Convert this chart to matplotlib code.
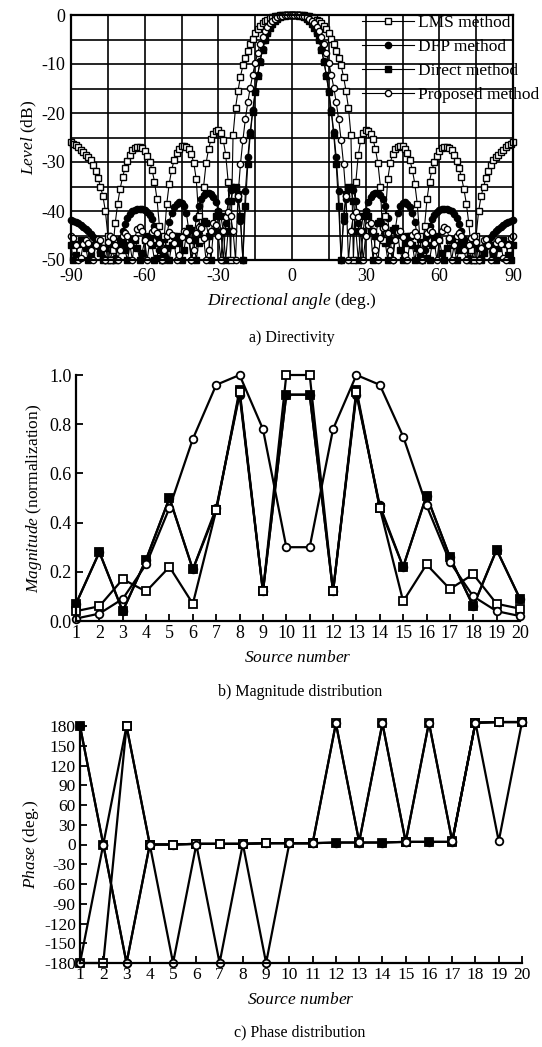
import numpy as np
import matplotlib
matplotlib.use("Agg")
import matplotlib.pyplot as plt

plt.rcParams['font.family'] = ['Liberation Serif', 'DejaVu Serif']
plt.rcParams['mathtext.fontset'] = 'custom'
plt.rcParams['mathtext.rm'] = 'Liberation Serif'
plt.rcParams['mathtext.it'] = 'Liberation Serif:italic'
plt.rcParams['axes.unicode_minus'] = False

# ---- a) directivity, levels in dB for 0..90 deg (pattern is symmetric)
lms_half = [0, 0, 0, 0, -0.1, -0.1, -0.2, -0.3, -0.5, -0.7,
            -1.0, -1.3, -1.7, -2.2, -2.9, -3.7, -4.8, -6.0, -7.3, -8.7,
            -10.3, -12.6, -15.5, -19.0, -24.5, -50, -34, -28.5, -25.5, -24.0,
            -23.5, -23.6, -24.2, -25.4, -27.4, -30.3, -35.0, -46.0, -41.0, -33.5,
            -30.2, -28.4, -27.4, -26.9, -26.7, -26.8, -27.3, -28.2, -29.6, -31.6,
            -34.4, -38.5, -45.0, -50, -43.0, -37.5, -34.0, -31.6, -29.9, -28.7,
            -27.8, -27.2, -26.9, -26.9, -27.1, -27.6, -28.5, -29.7, -31.2, -33.1,
            -35.5, -38.5, -42.5, -48.0, -50, -45.0, -40.0, -37.0, -35.0, -33.3,
            -31.8, -30.6, -29.6, -29.0, -28.5, -28.0, -27.5, -27.0, -26.6, -26.3,
            -26.0]
dfp_half = [0, 0, 0, -0.1, -0.2, -0.4, -0.7, -1.1, -1.7, -2.5,
            -3.6, -5.1, -7.0, -9.4, -12.3, -15.6, -19.4, -23.8, -29.0, -36.0,
            -50, -42.0, -37.5, -35.5, -35.0, -35.8, -38.0, -42.5, -50, -44.0,
            -40.0, -38.2, -37.2, -36.6, -36.3, -36.3, -36.7, -37.5, -39.0, -41.5,
            -46.0, -50, -44.0, -40.5, -38.9, -38.3, -38.2, -38.5, -39.2, -40.4,
            -42.2, -45.0, -49.0, -50, -48.0, -45.0, -43.0, -41.7, -40.8, -40.2,
            -39.8, -39.6, -39.5, -39.5, -39.7, -40.1, -40.7, -41.5, -42.6, -44.0,
            -45.7, -47.5, -49.5, -50, -50, -50, -50, -49.5, -48.3, -47.2,
            -46.2, -45.4, -44.7, -44.1, -43.6, -43.2, -42.8, -42.5, -42.2, -42.0,
            -41.8]
direct_half = [0, 0, -0.1, -0.2, -0.3, -0.5, -0.8, -1.2, -1.8, -2.6,
               -3.7, -5.2, -7.1, -9.5, -12.4, -15.8, -19.8, -24.5, -30.5, -39.0,
               -50, -41.0, -36.5, -35.0, -35.5, -38.0, -44.0, -50, -44.0, -41.0,
               -40.2, -41.0, -44.0, -50, -45.0, -42.5, -42.0, -43.0, -46.5, -50,
               -46.0, -43.8, -43.5, -44.8, -48.0, -50, -46.5, -45.0, -45.2, -47.0,
               -50, -47.5, -45.8, -45.5, -46.5, -49.5, -50, -47.0, -45.5, -45.2,
               -46.0, -48.5, -50, -47.5, -46.0, -45.8, -47.0, -50, -48.0, -46.5,
               -46.2, -47.2, -50, -48.0, -46.8, -46.5, -47.5, -50, -48.5, -47.0,
               -46.5, -47.0, -49.0, -50, -47.5, -46.3, -46.0, -46.8, -49.0, -50,
               -47.0]
proposed_half = [0, 0, 0, -0.1, -0.2, -0.3, -0.5, -0.8, -1.2, -1.7,
                 -2.4, -3.3, -4.5, -6.0, -7.8, -9.8, -12.2, -14.8, -17.8, -21.3,
                 -25.5, -30.5, -37.0, -50, -44.0, -41.0, -40.3, -41.2, -44.0, -50,
                 -45.0, -42.8, -42.5, -44.0, -48.0, -50, -45.5, -43.5, -43.2, -44.5,
                 -48.0, -50, -46.0, -44.3, -44.0, -45.3, -49.0, -50, -46.5, -44.8,
                 -44.3, -45.2, -48.0, -50, -46.5, -44.5, -43.8, -44.3, -46.5, -50,
                 -46.0, -44.0, -43.3, -43.6, -45.5, -50, -47.0, -45.0, -44.5, -45.2,
                 -48.0, -50, -47.0, -45.5, -45.2, -46.3, -50, -47.5, -46.0, -45.8,
                 -47.0, -50, -48.0, -46.5, -46.0, -46.8, -49.5, -50, -47.0, -45.5,
                 -45.0]

# ---- b) magnitude distribution
source = list(range(1, 21))
lms_mag = [0.04, 0.06, 0.17, 0.12, 0.22, 0.07, 0.45, 0.93, 0.12, 1.0,
           1.0, 0.12, 0.93, 0.46, 0.08, 0.23, 0.13, 0.19, 0.07, 0.05]
dfp_mag = [0.07, 0.28, 0.04, 0.25, 0.50, 0.21, 0.46, 0.92, 0.12, 0.92,
           0.92, 0.12, 0.92, 0.47, 0.22, 0.51, 0.26, 0.06, 0.29, 0.09]
direct_mag = [0.07, 0.28, 0.04, 0.25, 0.50, 0.21, 0.45, 0.94, 0.12, 0.92,
              0.92, 0.12, 0.94, 0.46, 0.22, 0.51, 0.26, 0.06, 0.29, 0.09]
proposed_mag = [0.01, 0.03, 0.09, 0.23, 0.46, 0.74, 0.96, 1.0, 0.78, 0.30,
                0.30, 0.78, 1.0, 0.96, 0.75, 0.47, 0.24, 0.10, 0.04, 0.02]

# ---- c) phase distribution
lms_ph = [-180, -180, 180, 0, 0, 1, 1, 1, 2, 2,
          2, 184, 4, 184, 4, 185, 5, 185, 186, 186]
dfp_ph = [180, 0, -180, 0, 0, 1, 1, 1, 2, 2,
          2, 3, 3, 3, 4, 4, 4, 185, 186, 186]
direct_ph = [180, 0, 180, 0, 0, 1, 1, 1, 2, 2,
             2, 3, 3, 3, 4, 4, 4, 185, 186, 186]
proposed_ph = [-180, 0, -180, 0, -180, 0, -180, 1, -180, 2,
               2, 184, 4, 184, 4, 185, 5, 185, 5, 186]

W, H = 542, 1047
fig = plt.figure(figsize=(W / 100, H / 100), dpi=100)


def box(l, t, r, b):
    return [l / W, 1 - b / H, (r - l) / W, (b - t) / H]


styles = {
    'LMS': dict(marker='s', mfc='white', mec='black'),
    'DFP': dict(marker='o', mfc='black', mec='black'),
    'Direct': dict(marker='s', mfc='black', mec='black'),
    'Proposed': dict(marker='o', mfc='white', mec='black'),
}

# ---------- a)
ax1 = fig.add_axes(box(71, 15, 513, 260))
angle = np.arange(-90, 91)
series_a = [('DFP', dfp_half, 'DFP method'), ('Direct', direct_half, 'Direct method'),
            ('LMS', lms_half, 'LMS method'), ('Proposed', proposed_half, 'Proposed method')]
handles = {}
for key, half, lab in series_a:
    full = half[:0:-1] + half
    h, = ax1.plot(angle, full, color='black', lw=0.8, ms=4.5, mew=1.0,
                  clip_on=False, label=lab, **styles[key])
    handles[key] = h
ax1.set_xlim(-90, 90)
ax1.set_ylim(-50, 0)
ax1.set_xticks(np.arange(-90, 91, 15), minor=True)
ax1.set_yticks(np.arange(-50, 1, 5), minor=True)
ax1.set_xticks(np.arange(-90, 91, 30))
ax1.set_yticks(np.arange(-50, 1, 10))
ax1.grid(True, which='both', color='black', lw=1.2)
ax1.tick_params(which='both', length=0, labelsize=13)
ax1.tick_params(axis='x', pad=6)
ax1.tick_params(axis='y', pad=4)
for s in ax1.spines.values():
    s.set_linewidth(1.6)
ax1.set_xlabel(r'$\mathit{Directional\ angle}$ (deg.)', fontsize=12.5, labelpad=4)
ax1.set_ylabel(r'$\mathit{Level}$ (dB)', fontsize=12.5, labelpad=2)
leg = ax1.legend([handles['LMS'], handles['DFP'], handles['Direct'], handles['Proposed']],
                 ['LMS method', 'DFP method', 'Direct method', 'Proposed method'],
                 loc='upper left', bbox_to_anchor=(362 / W, 1 - 15 / H),
                 bbox_transform=fig.transFigure, frameon=False, fontsize=12.5,
                 handlelength=3.0, handletextpad=0.2, labelspacing=0.45,
                 borderaxespad=0, borderpad=0)
fig.text(292 / W, 1 - 338 / H, 'a) Directivity', ha='center', va='center', fontsize=11.5)

# ---------- b)
ax2 = fig.add_axes(box(76, 375, 520, 621))
for key, vals in [('DFP', dfp_mag), ('Direct', direct_mag), ('LMS', lms_mag),
                  ('Proposed', proposed_mag)]:
    ax2.plot(source, vals, color='black', lw=1.6, ms=5.5, mew=1.3,
             clip_on=False, **styles[key])
ax2.set_xlim(1, 20)
ax2.set_ylim(0, 1.0)
ax2.set_xticks(source)
ax2.set_yticks([0.0, 0.2, 0.4, 0.6, 0.8, 1.0])
ax2.set_yticklabels(['0.0', '0.2', '0.4', '0.6', '0.8', '1.0'])
ax2.spines['top'].set_visible(False)
ax2.spines['right'].set_visible(False)
for s in ('left', 'bottom'):
    ax2.spines[s].set_linewidth(1.6)
ax2.tick_params(direction='in', length=5, width=1.3, labelsize=13, pad=3)
ax2.set_xlabel(r'$\mathit{Source\ number}$', fontsize=12.5, labelpad=6)
ax2.set_ylabel(r'$\mathit{Magnitude}$ (normalization)', fontsize=12.5, labelpad=4)
fig.text(300 / W, 1 - 692 / H, 'b) Magnitude distribution', ha='center', va='center',
         fontsize=11.5)

# ---------- c)
ax3 = fig.add_axes(box(80, 726, 522, 963))
for key, vals in [('DFP', dfp_ph), ('Direct', direct_ph), ('LMS', lms_ph),
                  ('Proposed', proposed_ph)]:
    ax3.plot(source, vals, color='black', lw=1.6, ms=5.5, mew=1.3,
             clip_on=False, **styles[key])
ax3.set_xlim(1, 20)
ax3.set_ylim(-180, 180)
ax3.set_xticks(source)
ax3.set_yticks(np.arange(-180, 181, 30))
ax3.spines['top'].set_visible(False)
ax3.spines['right'].set_visible(False)
for s in ('left', 'bottom'):
    ax3.spines[s].set_linewidth(1.6)
ax3.tick_params(direction='in', length=5, width=1.3, labelsize=12.5, pad=3)
ax3.set_xlabel(r'$\mathit{Source\ number}$', fontsize=12.5, labelpad=6)
ax3.set_ylabel(r'$\mathit{Phase}$ (deg.)', fontsize=12.5, labelpad=2)
fig.text(300 / W, 1 - 1032 / H, 'c) Phase distribution', ha='center', va='center',
         fontsize=11.5)

fig.savefig('out.png', dpi=100)
